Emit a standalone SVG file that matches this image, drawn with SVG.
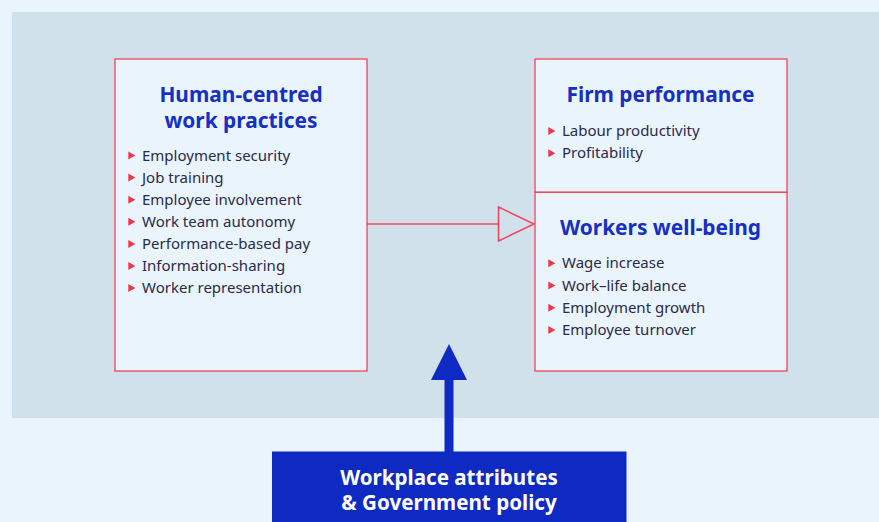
<svg xmlns="http://www.w3.org/2000/svg" width="879" height="522" viewBox="0 0 879 522">
<defs>
<style>
.box{fill:#EAF4FD;stroke:#F0465A;stroke-width:1.3}
.title{font-family:"Noto Sans","Open Sans","DejaVu Sans",sans-serif;font-weight:bold;font-size:20.9px;fill:#1530C2;text-anchor:middle}
.item{font-family:"Noto Sans","Open Sans","DejaVu Sans",sans-serif;font-size:15px;fill:#2B2A4C}
.bul{fill:#F0364A}
.btxt{font-family:"Noto Sans","Open Sans","DejaVu Sans",sans-serif;font-weight:bold;font-size:20.6px;fill:#FFFFFF;text-anchor:middle}
</style>
<path id="tri" d="M0,-4 L7,0 L0,4 Z"/>
</defs>
<rect x="0" y="0" width="879" height="522" fill="#EAF4FD"/>
<rect x="12" y="12" width="867" height="406" fill="#D0E1EB"/>

<g id="connectors">
<line x1="367" y1="224" x2="498.5" y2="224" stroke="#F0465A" stroke-width="1.5"/>
<polygon points="498.5,207 534,224 498.5,241" fill="none" stroke="#F0465A" stroke-width="1.5"/>
<rect x="444.5" y="378" width="9" height="74" fill="#0F29C3"/>
<polygon points="449,344 467,380 431,380" fill="#0F29C3"/>
</g>

<g id="node-practices">
<rect class="box" x="115" y="59" width="252" height="312"/>
<text class="title" x="241" y="101.5">Human-centred</text>
<text class="title" x="241" y="127.5">work practices</text>
<g class="bul">
<use href="#tri" x="128.3" y="155.5"/>
<use href="#tri" x="128.3" y="177.6"/>
<use href="#tri" x="128.3" y="199.7"/>
<use href="#tri" x="128.3" y="221.8"/>
<use href="#tri" x="128.3" y="243.9"/>
<use href="#tri" x="128.3" y="266"/>
<use href="#tri" x="128.3" y="288.1"/>
</g>
<text class="item" x="142" y="160.7">Employment security</text>
<text class="item" x="142" y="182.8">Job training</text>
<text class="item" x="142" y="204.9">Employee involvement</text>
<text class="item" x="142" y="227">Work team autonomy</text>
<text class="item" x="142" y="249.1">Performance-based pay</text>
<text class="item" x="142" y="271.2">Information-sharing</text>
<text class="item" x="142" y="293.3">Worker representation</text>
</g>

<g id="node-firm">
<rect class="box" x="535" y="59" width="252" height="133.3"/>
<text class="title" x="660.5" y="101.5">Firm performance</text>
<g class="bul">
<use href="#tri" x="548.3" y="131"/>
<use href="#tri" x="548.3" y="153.2"/>
</g>
<text class="item" x="562" y="136">Labour productivity</text>
<text class="item" x="562" y="158.2">Profitability</text>
</g>

<g id="node-wellbeing">
<rect class="box" x="535" y="192.3" width="252" height="178.7"/>
<text class="title" x="660.5" y="235">Workers well-being</text>
<g class="bul">
<use href="#tri" x="548.3" y="263.3"/>
<use href="#tri" x="548.3" y="285.5"/>
<use href="#tri" x="548.3" y="307.7"/>
<use href="#tri" x="548.3" y="329.9"/>
</g>
<text class="item" x="562" y="268.4">Wage increase</text>
<text class="item" x="562" y="290.6">Work–life balance</text>
<text class="item" x="562" y="312.8">Employment growth</text>
<text class="item" x="562" y="335">Employee turnover</text>
</g>

<g id="node-policy">
<rect x="272" y="451.5" width="354.5" height="75" fill="#0F29C3"/>
<text class="btxt" x="449" y="485">Workplace attributes</text>
<text class="btxt" x="449" y="510">&amp; Government policy</text>
</g>
</svg>
